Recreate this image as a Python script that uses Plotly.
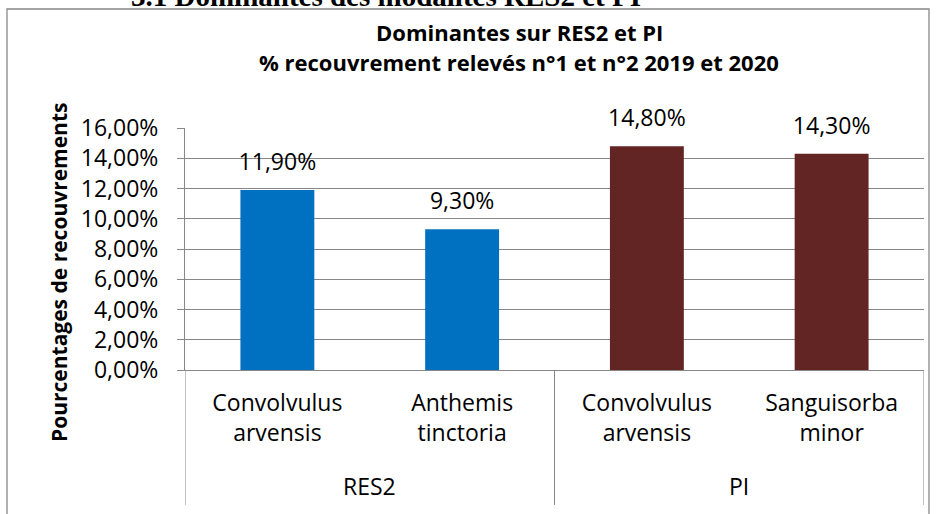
import plotly.graph_objects as go

# ---- data ----
groups = ["RES2", "RES2", "PI", "PI"]
species = ["Convolvulus<br>arvensis", "Anthemis<br>tinctoria",
           "Convolvulus<br>arvensis", "Sanguisorba<br>minor"]
values = [0.119, 0.093, 0.148, 0.143]
group_names = ["RES2", "PI"]
group_colors = {"RES2": "#0070C0", "PI": "#632523"}

title_line1 = "Dominantes sur RES2 et PI"
title_line2 = "% recouvrement relevés n°1 et n°2 2019 et 2020"
y_title = "Pourcentages de recouvrements"
header = "3.1 Dominantes des modalités RES2 et PI"

FONT = "Open Sans"
GRID = "#878787"

# unique category keys (same species can occur in two groups)
keys = [f"{g}|{s}" for g, s in zip(groups, species)]

fig = go.Figure()
fig.add_trace(go.Bar(
    x=keys, y=values, width=0.4,
    marker=dict(color=[group_colors[g] for g in groups], line=dict(width=0)),
    hoverinfo="skip", showlegend=False,
))
fig.add_trace(go.Scatter(
    x=keys, y=values, mode="markers+text",
    marker=dict(size=21, opacity=0),
    text=[f"{v*100:.2f}%".replace(".", ",") for v in values],
    textposition="top center",
    textfont=dict(family=FONT, size=23, color="black"),
    cliponaxis=False, hoverinfo="skip", showlegend=False,
))

# plot area in page pixels: x 185..924, y 128..370
L, R, T, B = 185, 924, 128, 370
W, H = R - L, B - T
def px(x): return (x - L) / W
def py(y): return (B - y) / H

# group positions (category index scale)
group_centers = []
group_edges = [-0.5]
for g in group_names:
    idx = [i for i, gg in enumerate(groups) if gg == g]
    group_centers.append(sum(idx) / len(idx))
    group_edges.append(max(idx) + 0.5)

shapes = [
    dict(type="rect", xref="paper", yref="paper",
         x0=px(7), x1=px(929), y0=py(540), y1=py(9),
         line=dict(color=GRID, width=1.3), fillcolor="rgba(0,0,0,0)",
         layer="below"),
]
for e in group_edges:
    shapes.append(dict(type="line", xref="x", yref="paper",
                       x0=e, x1=e, y0=0, y1=py(505),
                       line=dict(color=GRID, width=1)))

annotations = [
    dict(text="<b>" + header + "</b>", xref="paper", yref="paper",
         x=px(386), y=py(14), xanchor="center", yanchor="bottom",
         showarrow=False,
         font=dict(family="Liberation Serif", size=29, color="black")),
    dict(text="<b>" + title_line1 + "</b>", xref="paper", yref="paper",
         x=px(519), y=py(32), xanchor="center", yanchor="middle",
         showarrow=False, font=dict(family=FONT, size=22, color="black")),
    dict(text="<b>" + title_line2 + "</b>", xref="paper", yref="paper",
         x=px(519), y=py(62), xanchor="center", yanchor="middle",
         showarrow=False, font=dict(family=FONT, size=22, color="black")),
    dict(text="<b>" + y_title + "</b>", xref="paper", yref="paper",
         x=px(59), y=py(273), xanchor="center", yanchor="middle",
         textangle=-90, showarrow=False,
         font=dict(family=FONT, size=21, color="black")),
]
for g, c in zip(group_names, group_centers):
    annotations.append(dict(text=g, xref="x", yref="paper", x=c, y=py(486),
                            xanchor="center", yanchor="middle", showarrow=False,
                            font=dict(family=FONT, size=23, color="black")))

fig.update_layout(
    width=941, height=514,
    margin=dict(l=L, r=941 - R, t=T, b=514 - B),
    paper_bgcolor="white", plot_bgcolor="white",
    separators=", ",
    font=dict(family=FONT, size=23, color="black"),
    xaxis=dict(
        type="category", range=[-0.5, len(keys) - 0.5],
        tickmode="array", tickvals=keys, ticktext=species,
        showline=True, linecolor=GRID, linewidth=1,
        ticks="", showgrid=False, zeroline=False,
        tickfont=dict(family=FONT, size=23, color="black"),
        ticklabelstandoff=12,
    ),
    yaxis=dict(
        range=[0, 0.16], dtick=0.02, tickformat=".2%",
        showline=True, linecolor=GRID, linewidth=1,
        ticks="outside", ticklen=7, tickcolor=GRID, tickwidth=1,
        showgrid=True, gridcolor=GRID, gridwidth=1,
        zeroline=False,
        tickfont=dict(family=FONT, size=23, color="black"),
        ticklabelstandoff=14,
    ),
    shapes=shapes,
    annotations=annotations,
)

fig.write_html("out.html", config={"displayModeBar": False},
               post_script="document.body.style.margin='0';")
